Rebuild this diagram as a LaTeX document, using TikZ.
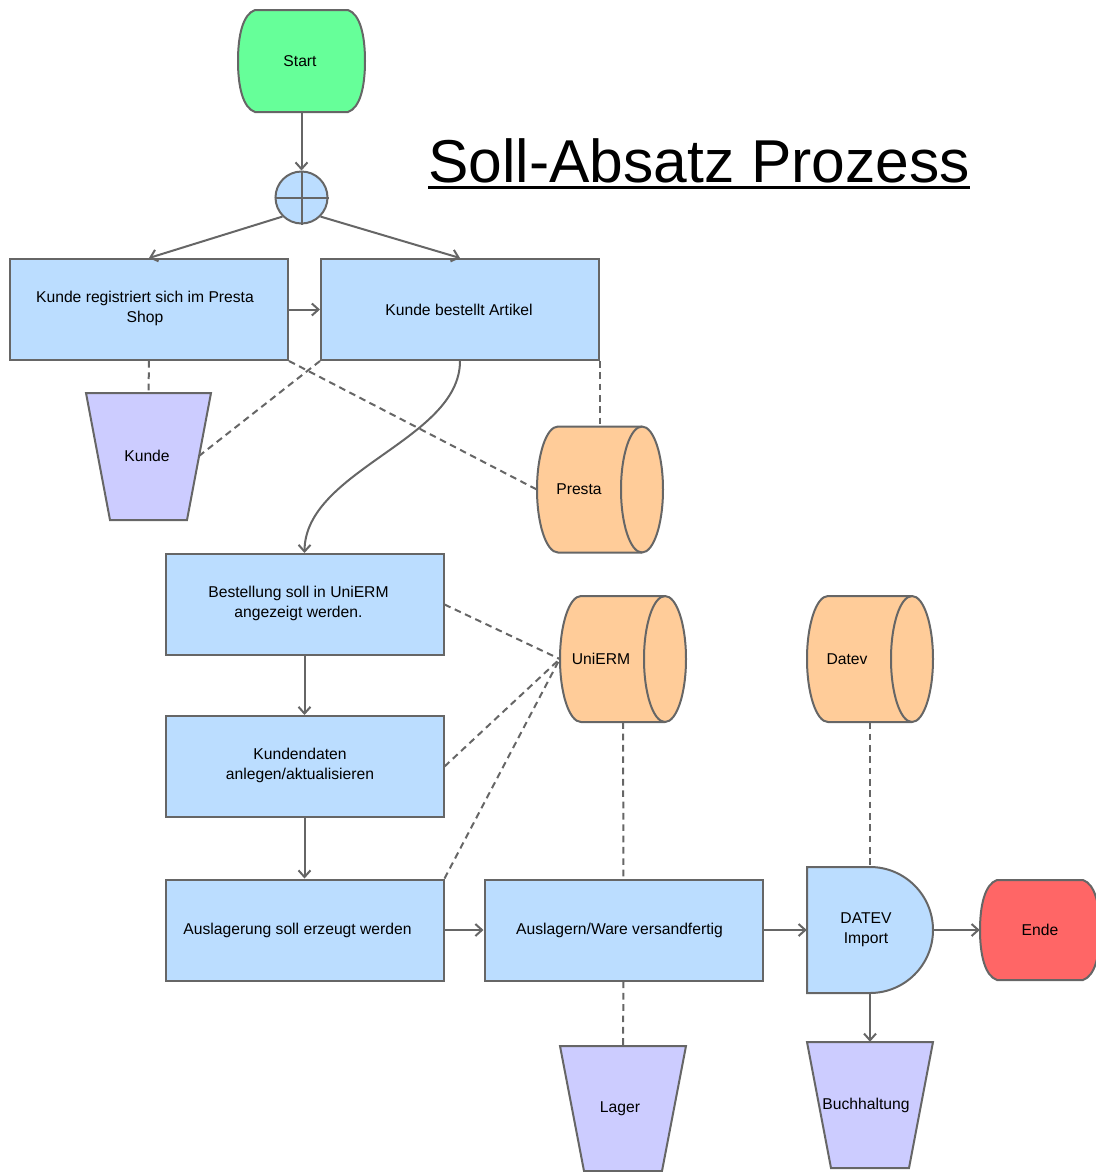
\documentclass[tikz,border=0pt]{standalone}
\usepackage{fontspec}
\setmainfont{Liberation Sans}
\usetikzlibrary{arrows.meta,calc}
\definecolor{ln}{HTML}{666666}
\definecolor{boxc}{HTML}{BBDDFF}
\definecolor{cylc}{HTML}{FFCC99}
\definecolor{trapc}{HTML}{CCCCFF}
\definecolor{startc}{HTML}{66FF99}
\definecolor{endec}{HTML}{FF6666}
\newcommand\mybarrel[5]{%
\path[shp, fill=#5] ({#1-#3+17},{#2-#4}) -- ({#1+#3-17},{#2-#4})
 .. controls ({#1+#3-5},{#2-#4+4}) and ({#1+#3},{#2-#4+25}) .. ({#1+#3},{#2})
 .. controls ({#1+#3},{#2+#4-25}) and ({#1+#3-5},{#2+#4-4}) .. ({#1+#3-17},{#2+#4})
 -- ({#1-#3+17},{#2+#4})
 .. controls ({#1-#3+5},{#2+#4-4}) and ({#1-#3},{#2+#4-25}) .. ({#1-#3},{#2})
 .. controls ({#1-#3},{#2-#4+25}) and ({#1-#3+5},{#2-#4+4}) .. ({#1-#3+17},{#2-#4}) -- cycle;}
\newcommand\mytrap[4]{%
\path[shp, fill=trapc] ({#1-#4},{#2}) -- ({#1+#4},{#2}) -- ({#1+#4-24},{#3}) -- ({#1-#4+24},{#3}) -- cycle;}
\newcommand\mycyl[2]{%
\path[shp, fill=cylc] ({#1-42},{#2-63}) -- ({#1+42},{#2-63})
 arc[start angle=90,end angle=-90,x radius=15.75pt,y radius=47.25pt]
 -- ({#1-42},{#2+63})
 arc[start angle=270,end angle=90,x radius=15.75pt,y radius=47.25pt] -- cycle;
\draw[shp] ({#1+42},{#2-63}) arc[start angle=90,end angle=270,x radius=15.75pt,y radius=47.25pt];}
\begin{document}
\begin{tikzpicture}[x=0.75pt,y=-0.75pt,
  shp/.style={draw=ln, line width=1.5pt},
  conn/.style={draw=ln, line width=1.5pt, -{Straight Barb[length=5pt,width=9pt]}},
  dashln/.style={draw=ln, line width=1.5pt, dash pattern=on 5pt off 3.5pt},
  txt/.style={font=\fontsize{11.75}{14.75}\selectfont, align=center, inner sep=0pt},
  box/.style={rectangle, draw=ln, fill=boxc, line width=1.5pt, minimum width=208.5pt, minimum height=75.75pt, inner sep=0pt},
  anch/.style={rectangle, inner sep=0pt, draw=none}]
\useasboundingbox (0,0) rectangle (1096,1172);

% title
\node[anchor=base west, inner sep=0pt, font=\fontsize{45.4}{54}\selectfont] (title) at (428,182) {Soll-Absatz Prozess};
\draw[line width=2.25pt, black] ([yshift=-4pt]title.base west) -- ([yshift=-4pt]title.base east);

% shapes
\mybarrel{301.5}{61}{63.5}{51}{startc}
\mybarrel{1040}{930}{60}{50}{endec}
\mytrap{148.5}{393}{520}{62.5}
\mytrap{623}{1046}{1171}{63}
\mytrap{870}{1042}{1168}{63}
\mycyl{600}{489.5}
\mycyl{623}{659}
\mycyl{870}{659}
\path[shp, fill=boxc] (807,867) -- (870,867) arc[start angle=90,end angle=-90,radius=47.25pt] -- (807,993) -- cycle;

% anchor nodes
\node[anch, minimum width=95.25pt, minimum height=76.5pt] (start) at (301.5,61) {};
\node[txt] (startL) at (300,61) {Start};
\node[anch, minimum width=90pt, minimum height=75pt] (ende) at (1040,930) {};
\node[txt] (endeL) at (1040,930) {Ende};
\node[anch, minimum width=93.75pt, minimum height=95.25pt] (kunde) at (148.5,456.5) {};
\node[txt] (kundeL) at (147,456) {Kunde};
\coordinate (kundeR) at (199,456);
\node[anch, minimum width=94.5pt, minimum height=94.5pt] (lager) at (623,1109) {};
\node[txt] (lagerL) at (620,1109) {Lager};
\node[anch, minimum width=94.5pt, minimum height=94.5pt] (buch) at (870,1105) {};
\node[txt] (buchL) at (866,1105) {Buchhaltung};
\node[anch, minimum width=94.5pt, minimum height=95.25pt] (presta) at (600,489.5) {};
\node[txt] (prestaL) at (579,489) {Presta};
\node[anch, minimum width=94.5pt, minimum height=94.5pt] (uni) at (623,659) {};
\node[txt] (uniL) at (601,659) {UniERM};
\node[anch, minimum width=94.5pt, minimum height=94.5pt] (datev) at (870,659) {};
\node[txt] (datevL) at (847,659) {Datev};
\node[anch, minimum width=94.5pt, minimum height=94.5pt] (dimp) at (870,930) {};
\node[txt] (dimpL) at (866,930) {DATEV\\Import};

% OR connector
\node[circle, draw=ln, fill=boxc, line width=1.5pt, minimum size=39pt, inner sep=0pt] (or) at (301.5,197.5) {};
\draw[shp] (or.north) -- (or.south) (or.west) -- (or.east);

% boxes
\node[box] (b1) at (149,309.5) {};
\node[txt] (b1L) at (145,308.5) {Kunde registriert sich im Presta\\Shop};
\node[box] (b2) at (460,309.5) {};
\node[txt] (b2L) at (459,309.5) {Kunde bestellt Artikel};
\node[box] (b3) at (304.5,604.5) {};
\node[txt] (b3L) at (298.5,603.5) {Bestellung soll in UniERM\\angezeigt werden.};
\node[box] (b4) at (304.5,766.5) {};
\node[txt] (b4L) at (300,765.5) {Kundendaten\\anlegen/aktualisieren};
\node[box] (b5) at (304.5,930) {};
\node[txt] (b5L) at (297.5,930) {Auslagerung soll erzeugt werden};
\node[box] (b6) at (623.5,930) {};
\node[txt] (b6L) at (619.5,930) {Auslagern/Ware versandfertig};

% dashed relations
\draw[dashln] (b1.south) -- (kunde.north);
\draw[dashln] (b2.south west) -- (kundeR);
\draw[dashln] (b1.south east) -- (presta.west);
\draw[dashln] (b2.south east) -- (b2.south east |- presta.north);
\draw[dashln] (b3.east) -- (uni.west);
\draw[dashln] (b4.east) -- (uni.west);
\draw[dashln] (b5.north east) -- (uni.west);
\draw[dashln] (uni.south) -- (b6.north);
\draw[dashln] (datev.south) -- (dimp.north);
\draw[dashln] (b6.south) -- (lager.north);

% control flow
\draw[conn] (start.south) -- (or.north);
\draw[conn] (or.south west) -- (b1.north);
\draw[conn] (or.south east) -- (b2.north);
\draw[conn] (b1.east) -- (b2.west);
\draw[conn] (b2.south) .. controls (460,440) and (305,470) .. (b3.north);
\draw[conn] (b3.south) -- (b4.north);
\draw[conn] (b4.south) -- (b5.north);
\draw[conn] (b5.east) -- (b6.west);
\draw[conn] (b6.east) -- (dimp.west);
\draw[conn] (dimp.east) -- (ende.west);
\draw[conn] (dimp.south) -- (buch.north);
\end{tikzpicture}
\end{document}
